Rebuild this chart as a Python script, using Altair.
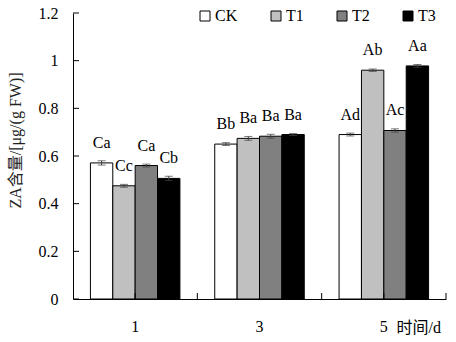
import altair as alt
import pandas as pd

days = ["1", "3", "5"]
groups = ["CK", "T1", "T2", "T3"]
colors = ["#ffffff", "#c0c0c0", "#808080", "#000000"]

ck_vals = [0.571, 0.650, 0.690]
t1_vals = [0.475, 0.674, 0.960]
t2_vals = [0.560, 0.683, 0.707]
t3_vals = [0.506, 0.690, 0.978]

ck_err = [0.009, 0.006, 0.006]
t1_err = [0.006, 0.008, 0.005]
t2_err = [0.006, 0.008, 0.007]
t3_err = [0.009, 0.004, 0.006]

ck_sig = ["Ca", "Bb", "Ad"]
t1_sig = ["Cc", "Ba", "Ab"]
t2_sig = ["Ca", "Ba", "Ac"]
t3_sig = ["Cb", "Ba", "Aa"]

y_ticks = [0, 0.2, 0.4, 0.6, 0.8, 1, 1.2]

rows = []
for g, vals, errs, sigs in zip(groups, [ck_vals, t1_vals, t2_vals, t3_vals],
                               [ck_err, t1_err, t2_err, t3_err],
                               [ck_sig, t1_sig, t2_sig, t3_sig]):
    for d, v, e, s in zip(days, vals, errs, sigs):
        rows.append({"day": d, "group": g, "value": v, "lo": v - e, "hi": v + e, "sig": s})
df = pd.DataFrame(rows)
df_days = pd.DataFrame({"day": days})
df_yt = pd.DataFrame({"v": y_ticks})

FONT = "'Liberation Serif', 'Noto Sans CJK SC', serif"
W, H = 373, 286

x_scale = alt.Scale(domain=days, paddingInner=0.28, paddingOuter=0.14)
x_enc = alt.X("day:N", scale=x_scale, sort=days,
              axis=alt.Axis(title="时间/d", titleX=323, titleY=33, titleAlign="left",
                            titleBaseline="alphabetic", titleFont=FONT, titleFontSize=16,
                            titleFontWeight="normal", titleColor="black",
                            labelAngle=0, ticks=False, tickSize=0, labelPadding=19,
                            labelFont=FONT, labelFontSize=16, labelColor="black",
                            domainColor="black", domainWidth=1, grid=False))
xo_enc = alt.XOffset("group:N", scale=alt.Scale(domain=groups, paddingInner=0, paddingOuter=0))
y_scale = alt.Scale(domain=[0, 1.2], nice=False, zero=True)
y_enc = alt.Y("value:Q", scale=y_scale,
              axis=alt.Axis(values=y_ticks, labelExpr="'' + datum.value", ticks=False, tickSize=0,
                            labelPadding=15, labelFont=FONT, labelFontSize=16, labelColor="black",
                            domainColor="black", domainWidth=1, grid=False,
                            title="ZA含量/[μg/(g FW)]", titleFont=FONT, titleFontSize=16,
                            titleFontWeight="normal", titleColor="#222222",
                            titleX=-58, titleY=127, titleBaseline="middle", titleAlign="center"))

base = alt.Chart(df)

bars = base.mark_bar(stroke="black", strokeWidth=1).encode(
    x=x_enc, xOffset=xo_enc, y=y_enc,
    fill=alt.Fill("group:N", scale=alt.Scale(domain=groups, range=colors),
                  legend=alt.Legend(orient="none", legendX=124, legendY=-5, direction="horizontal",
                                    title=None, symbolType="square", symbolSize=100,
                                    symbolStrokeColor="black", symbolStrokeWidth=1,
                                    labelFont=FONT, labelFontSize=16, labelColor="black",
                                    columnPadding=30, labelOffset=2, padding=0)),
)

err = base.mark_rule(color="#404040", strokeWidth=1).encode(
    x=alt.X("day:N", sort=days), xOffset=alt.XOffset("group:N"),
    y=alt.Y("lo:Q"), y2="hi:Q")
cap_hi = base.mark_tick(color="#404040", thickness=1, size=8, orient="horizontal").encode(
    x=alt.X("day:N", sort=days), xOffset=alt.XOffset("group:N"), y=alt.Y("hi:Q"))
cap_lo = base.mark_tick(color="#404040", thickness=1, size=8, orient="horizontal").encode(
    x=alt.X("day:N", sort=days), xOffset=alt.XOffset("group:N"), y=alt.Y("lo:Q"))

labels = base.mark_text(font=FONT, fontSize=16, color="black", baseline="alphabetic", dy=-15).encode(
    x=alt.X("day:N", sort=days), xOffset=alt.XOffset("group:N"), y=alt.Y("value:Q"), text="sig:N")

x_ticks_c = alt.Chart(df_days).mark_rule(color="black", strokeWidth=1).encode(
    x=alt.X("day:N", sort=days, bandPosition=0.5),
    y=alt.value(H - 6), y2=alt.value(H))
y_tick_marks = alt.Chart(df_yt).mark_rule(color="black", strokeWidth=1).encode(
    y=alt.Y("v:Q", scale=y_scale), x=alt.value(0), x2=alt.value(6))

inner = alt.layer(bars, err, cap_hi, cap_lo, labels, x_ticks_c, y_tick_marks)

x_ticks_b = alt.Chart(df_days).mark_rule(color="black", strokeWidth=1).encode(
    x=alt.X("day:N", sort=days, bandPosition=1,
            scale=alt.Scale(domain=days, paddingInner=0, paddingOuter=0), axis=None),
    y=alt.value(H - 6), y2=alt.value(H))

chart = alt.layer(inner, x_ticks_b).resolve_scale(x="independent").properties(
    width=W, height=H,
    padding={"left": 73, "top": 13, "right": 10, "bottom": 43},
    autosize=alt.AutoSizeParams(type="none"),
    background="white",
).configure_view(strokeWidth=0)

chart.save("out.html", embed_options={"renderer": "svg", "actions": False})
